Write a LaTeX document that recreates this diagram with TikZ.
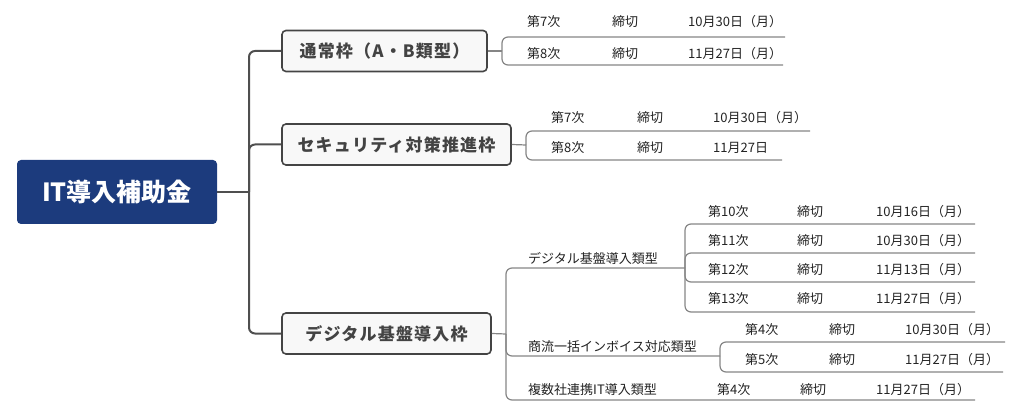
\documentclass[tikz,border=0pt]{standalone}
\usepackage{fontspec}
\setmainfont{Noto Sans CJK JP}
\usetikzlibrary{positioning}
\definecolor{navy}{HTML}{1C3B7D}
\definecolor{boxline}{HTML}{444444}
\definecolor{boxfill}{HTML}{F8F8F8}
\definecolor{trunk}{HTML}{4F4F4F}
\definecolor{sub}{HTML}{858585}
\definecolor{txt}{HTML}{222222}
\tikzset{
  rootbox/.style={fill=navy, rounded corners=4pt, minimum width=200pt, minimum height=64pt,
    text=white, font=\fontsize{25}{25}\selectfont\bfseries, inner sep=0pt},
  mainbox/.style={draw=boxline, line width=1.6pt, fill=boxfill, rounded corners=4pt,
    minimum height=41pt, text=txt!85!white,
    font=\fontsize{17}{17}\selectfont\bfseries\addfontfeature{LetterSpace=7}, inner sep=0pt},
  lbl/.style={anchor=west, inner sep=0pt, text=txt, font=\fontsize{13}{13}\selectfont},
  trunkline/.style={draw=trunk, line width=2pt, rounded corners=6pt},
  subline/.style={draw=sub, line width=1.2pt, rounded corners=6pt},
}
\begin{document}
\begin{tikzpicture}[x=1pt,y=-1pt]
\useasboundingbox (0,0) rectangle (1024,419);

% root and main branches
\node[rootbox] (root) at (117,192) {IT導入補助金};
\node[mainbox, minimum width=205pt] (b1) at (384.5,51) {通常枠（A・B類型）};
\node[mainbox, minimum width=229pt] (b2) at (396.5,144.5) {セキュリティ対策推進枠};
\node[mainbox, minimum width=209pt] (b3) at (386.5,333.5) {デジタル基盤導入枠};

\coordinate (T) at (249,192);
\draw[trunkline] (root.east) -- (T);
\draw[trunkline] (T) |- (b1.west);
\draw[trunkline] (T) |- (b2.west);
\draw[trunkline] (T) |- (b3.west);

% ---------- branch 1
\coordinate (J1) at (502,51);
\draw[subline] (b1.east) -- (J1);
\coordinate (e11) at (785,37);
\coordinate (e12) at (783,65);
\draw[subline] (J1) |- (e11);
\draw[subline] (J1) |- (e12);
\node[lbl] (a11) at (527,22) {第7次};
\node[lbl] (c11) at (612,22) {締切};
\node[lbl] (d11) at (688,22) {10月30日（月）};
\node[lbl] (a12) at (527,54) {第8次};
\node[lbl] (c12) at (612,54) {締切};
\node[lbl] (d12) at (688,54) {11月27日（月）};

% ---------- branch 2
\coordinate (J2) at (526,145);
\draw[subline] (b2.east) -- (J2);
\coordinate (e21) at (810,131);
\coordinate (e22) at (782,160);
\draw[subline] (J2) |- (e21);
\draw[subline] (J2) |- (e22);
\node[lbl] (a21) at (551,118) {第7次};
\node[lbl] (c21) at (637,118) {締切};
\node[lbl] (d21) at (713,118) {10月30日（月）};
\node[lbl] (a22) at (551,148) {第8次};
\node[lbl] (c22) at (637,148) {締切};
\node[lbl] (d22) at (713,148) {11月27日};

% ---------- branch 3
\coordinate (J3) at (506,334);
\draw[subline] (b3.east) -- (J3);
\coordinate (s1e) at (685,268);
\coordinate (s2e) at (720,356);
\coordinate (s3e) at (975,400);
\draw[subline] (J3) |- (s1e);
\draw[subline] (J3) |- (s2e);
\draw[subline] (J3) |- (s3e);
\node[lbl] (s1) at (528,258) {デジタル基盤導入類型};
\node[lbl] (s2) at (528,347) {商流一括インボイス対応類型};
\node[lbl] (s3) at (528,390) {複数社連携IT導入類型};

% sub 1 rows
\coordinate (f1) at (975,224);
\coordinate (f2) at (975,253);
\coordinate (f3) at (975,282);
\coordinate (f4) at (975,312);
\draw[subline] (s1e) |- (f1);
\draw[subline] (s1e) |- (f2);
\draw[subline] (s1e) |- (f3);
\draw[subline] (s1e) |- (f4);
\node[lbl] (r1a) at (708,212) {第10次};
\node[lbl] (r1b) at (797,212) {締切};
\node[lbl] (r1c) at (876,212) {10月16日（月）};
\node[lbl] (r2a) at (708,241) {第11次};
\node[lbl] (r2b) at (797,241) {締切};
\node[lbl] (r2c) at (876,241) {10月30日（月）};
\node[lbl] (r3a) at (708,270) {第12次};
\node[lbl] (r3b) at (797,270) {締切};
\node[lbl] (r3c) at (876,270) {11月13日（月）};
\node[lbl] (r4a) at (708,299) {第13次};
\node[lbl] (r4b) at (797,299) {締切};
\node[lbl] (r4c) at (876,299) {11月27日（月）};

% sub 2 rows
\coordinate (g1) at (1005,342);
\coordinate (g2) at (1003,372);
\draw[subline] (s2e) |- (g1);
\draw[subline] (s2e) |- (g2);
\node[lbl] (q1a) at (745,330) {第4次};
\node[lbl] (q1b) at (829,330) {締切};
\node[lbl] (q1c) at (905,330) {10月30日（月）};
\node[lbl] (q2a) at (745,360) {第5次};
\node[lbl] (q2b) at (829,360) {締切};
\node[lbl] (q2c) at (905,360) {11月27日（月）};

% sub 3 row
\node[lbl] (p1a) at (717,390) {第4次};
\node[lbl] (p1b) at (800,390) {締切};
\node[lbl] (p1c) at (876,390) {11月27日（月）};
\end{tikzpicture}
\end{document}
